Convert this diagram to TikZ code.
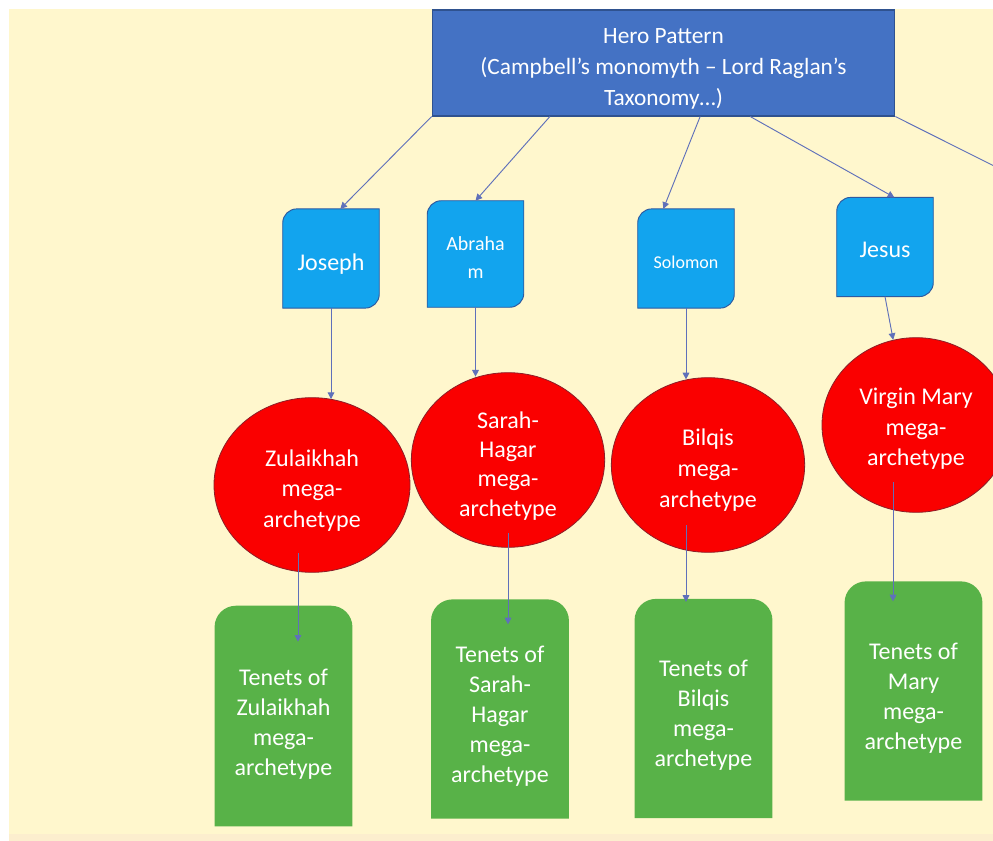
\documentclass[tikz,border=0pt]{standalone}
\usepackage{fontspec}
\setmainfont{Carlito}
\usepackage{tikz}
\usetikzlibrary{shapes.geometric,arrows.meta,calc,backgrounds}

\definecolor{cream}{RGB}{255,247,205}
\definecolor{creamedge}{RGB}{252,238,206}
\definecolor{heroblue}{RGB}{68,114,196}
\definecolor{heroedge}{RGB}{47,82,143}
\definecolor{personblue}{RGB}{18,164,238}
\definecolor{personedge}{RGB}{46,90,160}
\definecolor{archred}{RGB}{250,0,0}
\definecolor{archedge}{RGB}{140,30,40}
\definecolor{tenetgreen}{RGB}{88,178,72}
\definecolor{linkblue}{RGB}{95,112,186}

% taller first line, pushes the text down a little
\newcommand{\padtop}[1]{\rule{0pt}{#1}}
% box with rounded top-left and bottom-right corners
\newcommand{\personshape}[1]{%
  \filldraw[fill=personblue, draw=personedge, line width=0.7pt]
    (#1.south west) -- ([yshift=-10.5pt]#1.north west)
    arc[start angle=180, end angle=90, radius=10.5pt]
    -- (#1.north east) -- ([yshift=10.5pt]#1.south east)
    arc[start angle=0, end angle=-90, radius=10.5pt] -- cycle;}
% box with rounded top corners
\newcommand{\tenetshape}[1]{%
  \fill[tenetgreen]
    (#1.south west) -- ([yshift=-16pt]#1.north west)
    arc[start angle=180, end angle=90, radius=16pt]
    -- ([xshift=-16pt]#1.north east)
    arc[start angle=90, end angle=0, radius=16pt]
    -- (#1.south east) -- cycle;}

\begin{document}
\begin{tikzpicture}[
    x=0.75pt, y=-0.75pt,
    hero/.style={rectangle, fill=heroblue, draw=heroedge, line width=0.8pt, text=white, align=center, font=\fontsize{17.5}{23}\selectfont, minimum width=347pt, minimum height=79.5pt},
    person/.style={rectangle, text=white, align=center, font=\fontsize{18}{22}\selectfont, minimum width=72pt, minimum height=74pt},
    archetype/.style={ellipse, fill=archred, draw=archedge, line width=0.6pt, text=white, align=center, font=\fontsize{18}{23}\selectfont, inner sep=0pt, minimum width=145pt, minimum height=131pt},
    tenets/.style={rectangle, text=white, align=center, font=\fontsize{18}{22.5}\selectfont, minimum width=103pt, minimum height=164pt},
    link/.style={draw=linkblue, line width=0.7pt, -{Triangle[length=5pt,width=5pt]}}
]
\useasboundingbox (0,0) rectangle (993,841);

% Top
\node[hero] (hero) at (663.5,63) {\padtop{20pt}Hero Pattern\\(Campbell’s monomyth – Lord Raglan’s\\Taxonomy…)};

% Heroes
\node[person] (joseph) at (331,258.5) {\padtop{21.6pt}Joseph};
\node[person, minimum height=79.5pt, font=\fontsize{15}{21}\selectfont] (abraham) at (475.5,254) {\padtop{16.5pt}Abraha\\m};
\node[person, font=\fontsize{13.5}{16}\selectfont] (solomon) at (686,258.5) {\padtop{15.5pt}Solomon};
\node[person] (jesus) at (885,247) {\padtop{15.6pt}Jesus};

% Mega-archetypes
\node[archetype, minimum width=147pt] (zul) at (312,485) {\padtop{20.6pt}Zulaikhah\\mega-\\archetype};
\node[archetype, font=\fontsize{18}{22}\selectfont] (sarah) at (508,460) {\padtop{21pt}Sarah-\\Hagar\\mega-\\archetype};
\node[archetype] (bilqis) at (708,465) {\padtop{20pt}Bilqis\\mega-\\archetype};
\node[archetype, minimum width=141pt] (mary) at (916,425) {\padtop{18pt}Virgin Mary\\mega-\\archetype};

% Tenets
\node[tenets, minimum height=165pt] (zulten) at (283.5,716) {\padtop{24.6pt}Tenets of\\Zulaikhah\\mega-\\archetype};
\node[tenets] (sarahten) at (500,709) {\padtop{23.8pt}Tenets of\\Sarah-\\Hagar\\mega-\\archetype};
\node[tenets] (bilqisten) at (703.5,708.5) {\padtop{22.4pt}Tenets of\\Bilqis\\mega-\\archetype};
\node[tenets] (maryten) at (913.5,691) {\padtop{22.4pt}Tenets of\\Mary\\mega-\\archetype};

\coordinate (offright) at (1030,184);

% Backgrounds and box shapes
\begin{scope}[on background layer]
\fill[white] (0,0) rectangle (993,841);
\fill[cream] (9,9) rectangle (993,834);
\fill[creamedge] (9,834) rectangle (993,841);
\personshape{joseph}
\personshape{abraham}
\personshape{solomon}
\personshape{jesus}
\tenetshape{zulten}
\tenetshape{sarahten}
\tenetshape{bilqisten}
\tenetshape{maryten}
\end{scope}

% Connections
\draw[link] (hero.south west) -- ([xshift=7pt]joseph.north);
\draw[link] ($(hero.south west)!0.255!(hero.south east)$) -- (abraham.north);
\draw[link] ($(hero.south west)!0.579!(hero.south east)$) -- ([xshift=-17pt]solomon.north);
\draw[link] ($(hero.south west)!0.687!(hero.south east)$) -- ([xshift=7pt]jesus.north);
\draw[link] (hero.south east) -- (offright);

\draw[link] (joseph.south) -- (joseph.south |- zul.77);
\draw[link] (abraham.south) -- (abraham.south |- sarah.110);
\draw[link] (solomon.south) -- (solomon.south |- bilqis.104);
\draw[link] (jesus.south) -- (mary.105);

\draw[link] ($(zul.center)+(-14,68)$) -- ($(zulten.north)+(14.5,36)$);
\draw[link] ($(sarah.center)+(0,73)$) -- ($(sarahten.north)+(8,25)$);
\draw[link] ($(bilqis.center)+(-22,60)$) -- ($(bilqisten.north)+(-17.5,3)$);
\draw[link] ($(mary.center)+(-23,57)$) -- ($(maryten.north)+(-20.5,20)$);

\end{tikzpicture}
\end{document}
